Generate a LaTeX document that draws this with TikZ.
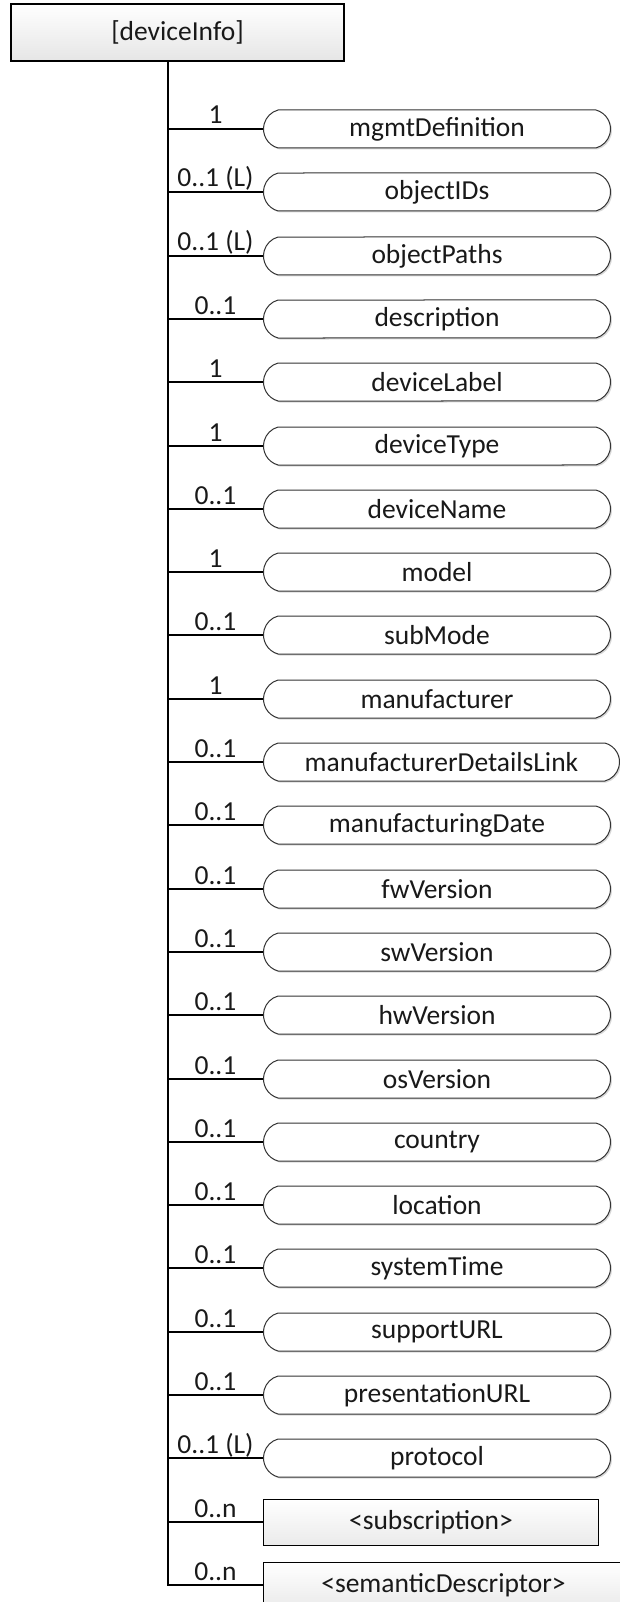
\documentclass[tikz,border=0pt]{standalone}
\usepackage{fontspec}
\setmainfont{Carlito}
\usetikzlibrary{positioning,shapes.misc,shadows}
\tikzset{
  rootbox/.style={draw, line width=1.1pt, top color=white, bottom color=black!10, minimum width=333pt, minimum height=57pt, inner sep=0pt},
  attrpill/.style={rounded rectangle, rounded rectangle arc length=150, draw=black!80, line width=1pt, fill=white, drop shadow={shadow xshift=1.5pt, shadow yshift=-1.5pt, fill=black!30, opacity=0.5}, minimum width=347pt, minimum height=38pt, inner sep=0pt, anchor=west},
  resbox/.style={draw, line width=1pt, top color=white, bottom color=black!8, minimum height=46pt, inner sep=0pt, anchor=west},
  multlabel/.style={anchor=base, yshift=5pt, inner sep=0pt},
  branch/.style={line width=1.2pt}
}
\begin{document}
\begin{tikzpicture}[x=1pt, y=-1pt, every node/.style={font=\fontsize{27.5}{31}\selectfont, text=black!90}]
  \useasboundingbox (0,0) rectangle (619,1602);
  \node[rootbox] (dev) at (177.5,32.5) {[deviceInfo]};
  \coordinate (trunk) at (168,61);
  % attributes
  \node[attrpill] (mgmt) at (263,129) {mgmtDefinition};
  \node[attrpill] (oids) at (263,192) {objectIDs};
  \node[attrpill] (opaths) at (263,256) {objectPaths};
  \node[attrpill] (descr) at (263,319) {description};
  \node[attrpill] (dlabel) at (263,382) {deviceLabel};
  \node[attrpill] (dtype) at (263,446) {deviceType};
  \node[attrpill] (dname) at (263,509) {deviceName};
  \node[attrpill] (model) at (263,572) {model};
  \node[attrpill] (submode) at (263,635) {subMode};
  \node[attrpill] (manuf) at (263,699) {manufacturer};
  \node[attrpill, minimum width=356pt] (mlink) at (263,762) {manufacturerDetailsLink};
  \node[attrpill] (mdate) at (263,825) {manufacturingDate};
  \node[attrpill] (fwver) at (263,889) {fwVersion};
  \node[attrpill] (swver) at (263,952) {swVersion};
  \node[attrpill] (hwver) at (263,1015) {hwVersion};
  \node[attrpill] (osver) at (263,1079) {osVersion};
  \node[attrpill] (country) at (263,1142) {country};
  \node[attrpill] (loc) at (263,1205) {location};
  \node[attrpill] (stime) at (263,1268) {systemTime};
  \node[attrpill] (supurl) at (263,1332) {supportURL};
  \node[attrpill] (presurl) at (263,1395) {presentationURL};
  \node[attrpill] (proto) at (263,1458) {protocol};
  % child resources
  \node[resbox, minimum width=335pt] (subs) at (263,1522) {<subscription>};
  \node[resbox, minimum width=360pt] (semdesc) at (263,1585) {<semanticDescriptor>};
  % branches
  \draw[branch] (trunk) |- node[multlabel, pos=0.75]{1} (mgmt.west);
  \draw[branch] (trunk) |- node[multlabel, pos=0.75]{0..1 (L)} (oids.west);
  \draw[branch] (trunk) |- node[multlabel, pos=0.75]{0..1 (L)} (opaths.west);
  \draw[branch] (trunk) |- node[multlabel, pos=0.75]{0..1} (descr.west);
  \draw[branch] (trunk) |- node[multlabel, pos=0.75]{1} (dlabel.west);
  \draw[branch] (trunk) |- node[multlabel, pos=0.75]{1} (dtype.west);
  \draw[branch] (trunk) |- node[multlabel, pos=0.75]{0..1} (dname.west);
  \draw[branch] (trunk) |- node[multlabel, pos=0.75]{1} (model.west);
  \draw[branch] (trunk) |- node[multlabel, pos=0.75]{0..1} (submode.west);
  \draw[branch] (trunk) |- node[multlabel, pos=0.75]{1} (manuf.west);
  \draw[branch] (trunk) |- node[multlabel, pos=0.75]{0..1} (mlink.west);
  \draw[branch] (trunk) |- node[multlabel, pos=0.75]{0..1} (mdate.west);
  \draw[branch] (trunk) |- node[multlabel, pos=0.75]{0..1} (fwver.west);
  \draw[branch] (trunk) |- node[multlabel, pos=0.75]{0..1} (swver.west);
  \draw[branch] (trunk) |- node[multlabel, pos=0.75]{0..1} (hwver.west);
  \draw[branch] (trunk) |- node[multlabel, pos=0.75]{0..1} (osver.west);
  \draw[branch] (trunk) |- node[multlabel, pos=0.75]{0..1} (country.west);
  \draw[branch] (trunk) |- node[multlabel, pos=0.75]{0..1} (loc.west);
  \draw[branch] (trunk) |- node[multlabel, pos=0.75]{0..1} (stime.west);
  \draw[branch] (trunk) |- node[multlabel, pos=0.75]{0..1} (supurl.west);
  \draw[branch] (trunk) |- node[multlabel, pos=0.75]{0..1} (presurl.west);
  \draw[branch] (trunk) |- node[multlabel, pos=0.75]{0..1 (L)} (proto.west);
  \draw[branch] (trunk) |- node[multlabel, pos=0.75]{0..n} (subs.west);
  \draw[branch] (trunk) |- node[multlabel, pos=0.75]{0..n} (semdesc.west);
\end{tikzpicture}
\end{document}
